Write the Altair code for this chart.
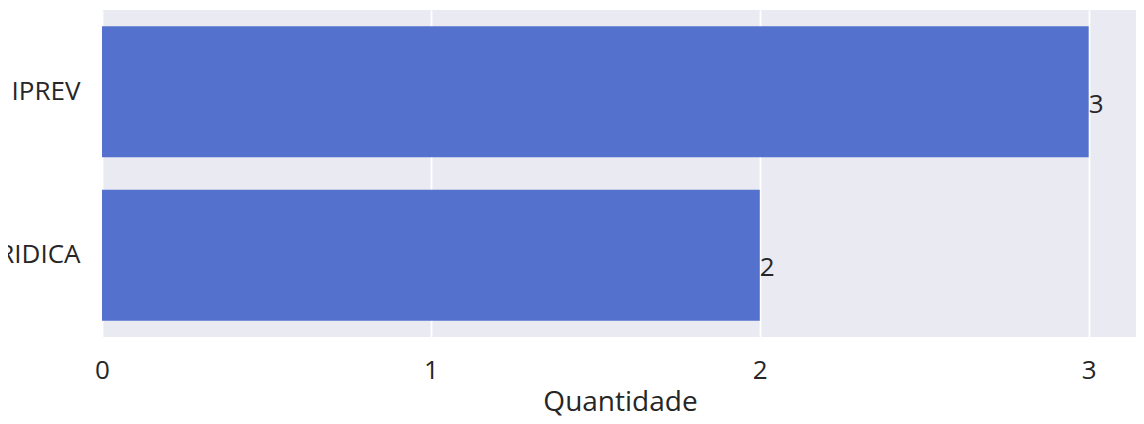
import altair as alt
import pandas as pd

categorias = ["IPREV", "JURIDICA"]
quantidades = [3, 2]
ticks_x = [0, 1, 2, 3]

df = pd.DataFrame({"categoria": categorias, "quantidade": quantidades})

FONT = "Open Sans"
TXT = "#262626"

x_enc = alt.X(
    "quantidade:Q",
    scale=alt.Scale(domain=[0, 3.15], nice=False, zero=True),
    axis=alt.Axis(
        values=ticks_x,
        format="d",
        title="Quantidade",
        titleFontSize=28,
        titleFontWeight="normal",
        titleBaseline="alphabetic",
        titleY=73,
        labelFontSize=26,
        labelPadding=20,
        labelFlush=False,
        ticks=False,
        tickSize=0,
        domain=False,
        grid=True,
    ),
)
y_enc = alt.Y(
    "categoria:N",
    sort=categorias,
    scale=alt.Scale(paddingInner=0.2, paddingOuter=0.1),
    axis=alt.Axis(
        title=None,
        labelFontSize=26,
        labelPadding=22,
        labelLimit=0,
        ticks=False,
        tickSize=0,
        domain=False,
        grid=False,
    ),
)

bars = alt.Chart(df).mark_bar(color="#5472CD").encode(x=x_enc, y=y_enc)

labels = alt.Chart(df).mark_text(
    align="left", baseline="middle", dx=0, dy=13,
    font=FONT, fontSize=26, color=TXT,
).encode(
    x=alt.X("quantidade:Q"),
    y=alt.Y("categoria:N", sort=categorias),
    text=alt.Text("quantidade:Q", format="d"),
)

chart = (
    (bars + labels)
    .properties(
        width=1036,
        height=327,
        padding={"left": 94, "top": 2, "right": -2, "bottom": 79},
        autosize=alt.AutoSizeParams(type="none"),
        background="white",
    )
    .configure_view(fill="#EAEAF2", stroke=None)
    .configure_axis(
        labelFont=FONT,
        titleFont=FONT,
        labelColor=TXT,
        titleColor=TXT,
        gridColor="white",
        gridWidth=1.8,
        gridOpacity=1,
    )
)

chart.save("out.html", embed_options={"renderer": "svg", "actions": False})
